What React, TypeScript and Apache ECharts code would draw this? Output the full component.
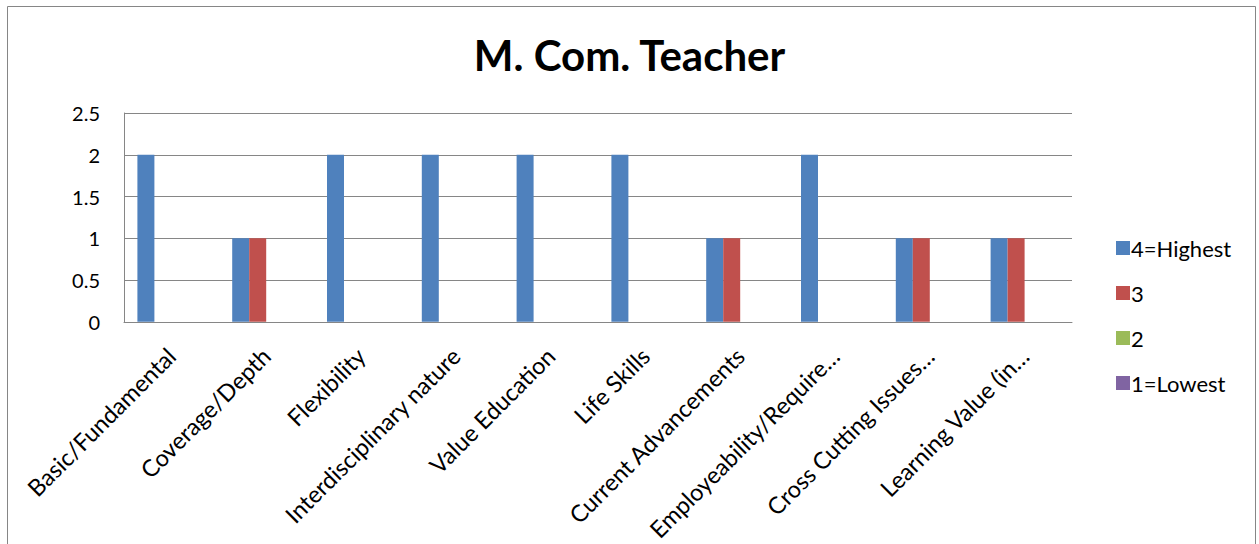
import React, { useEffect, useRef } from "react";
import * as echarts from "echarts";

const categories = [
  "Basic/Fundamental",
  "Coverage/Depth",
  "Flexibility",
  "Interdisciplinary nature",
  "Value Education",
  "Life Skills",
  "Current Advancements",
  "Employeability/Require…",
  "Cross Cutting Issues…",
  "Learning Value (in…",
];
const seriesNames = ["4=Highest", "3", "2", "1=Lowest"];
const highest = [2, 1, 2, 2, 2, 2, 1, 2, 1, 1];
const three = [0, 1, 0, 0, 0, 0, 1, 0, 1, 1];
const two = [0, 0, 0, 0, 0, 0, 0, 0, 0, 0];
const lowest = [0, 0, 0, 0, 0, 0, 0, 0, 0, 0];
const colors = ["#4F81BD", "#C0504D", "#9BBB59", "#8064A2"];

const FONT = "Lato, 'Open Sans', sans-serif";

export default function App() {
  const ref = useRef<HTMLDivElement>(null);
  useEffect(() => {
    document.body.style.margin = "0";
    const chart = echarts.init(ref.current!, null, { renderer: "svg" });
    const values = [highest, three, two, lowest];
    chart.setOption({
      animation: false,
      backgroundColor: "#ffffff",
      title: {
        text: "M. Com. Teacher",
        left: "center",
        top: 29,
        textStyle: { fontFamily: FONT, fontSize: 42, fontWeight: "bold", color: "#000" },
      },
      graphic: [
        {
          type: "rect",
          shape: { x: 7.5, y: 6.5, width: 1248, height: 600 },
          style: { fill: "none", stroke: "#868686", lineWidth: 1 },
          silent: true,
        },
      ],
      legend: {
        orient: "vertical",
        left: 1111,
        top: 232,
        itemWidth: 14,
        itemHeight: 14,
        itemGap: 23,
        icon: "rect",
        data: seriesNames,
        textStyle: { fontFamily: FONT, fontSize: 22, lineHeight: 20, color: "#000", padding: [0, 0, 0, -4] },
      },
      grid: { left: 124, top: 113, width: 948, height: 212, containLabel: false },
      xAxis: {
        type: "category",
        data: categories,
        axisLine: { lineStyle: { color: "#868686", width: 1 } },
        axisTick: { show: false },
        axisLabel: {
          rotate: 45,
          interval: 0,
          margin: 30,
          fontFamily: FONT,
          fontSize: 23.5,
          color: "#000",
        },
      },
      yAxis: {
        type: "value",
        min: 0,
        max: 2.5,
        interval: 0.5,
        axisLine: { show: true, lineStyle: { color: "#868686" } },
        axisTick: { show: false },
        splitLine: { lineStyle: { color: "#868686" } },
        axisLabel: { fontFamily: FONT, fontSize: 20, color: "#000", margin: 24 },
      },
      series: seriesNames.map((name, i) => ({
        name,
        type: "bar",
        data: values[i],
        barWidth: 17,
        barGap: "0%",
        itemStyle: { color: colors[i] },
      })),
    });
    return () => chart.dispose();
  }, []);
  return <div ref={ref} style={{ width: 1259, height: 544 }} />;
}
